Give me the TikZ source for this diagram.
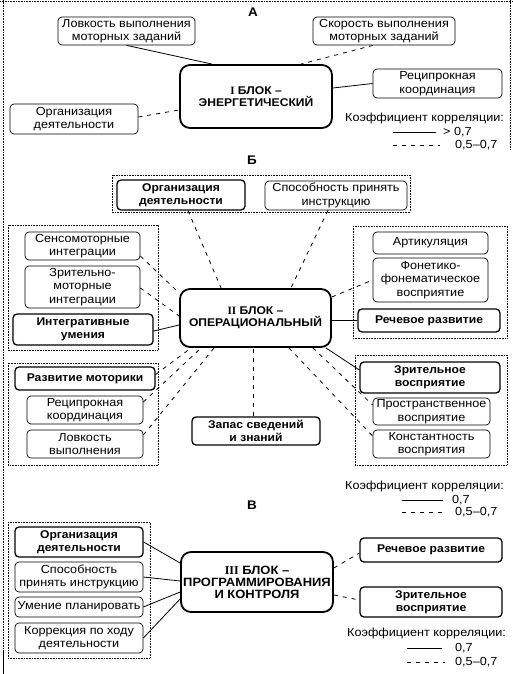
\documentclass[tikz,border=0pt]{standalone}
\usepackage{fontspec}
\setmainfont{Liberation Sans}[FakeStretch=1.08]
\newfontfamily\romfont{Liberation Serif}
\usetikzlibrary{calc}
\newcommand\myfs{\fontsize{11.7}{13.5}\selectfont}
\newcommand\myfb{\bfseries\fontsize{11.2}{13.5}\selectfont}
\newcommand\myfc{\bfseries\fontsize{11.2}{12}\selectfont}
\newcommand\myfcc{\bfseries\fontsize{12}{12}\selectfont}
\tikzset{
  sbox/.style={draw, line width=0.7pt, rounded corners=4pt, align=center, inner sep=0pt, font=\myfs},
  bbox/.style={sbox, line width=1.3pt, font=\myfb},
  cbox/.style={draw, line width=1.8pt, rounded corners=10pt, align=center, inner sep=0pt, font=\myfc},
  grp/.style={densely dotted, line width=0.6pt},
  solidc/.style={line width=0.8pt},
  dashc/.style={line width=0.8pt, dash pattern=on 4pt off 5pt},
  ttl/.style={font=\bfseries\fontsize{12.5}{14}\selectfont, inner sep=0pt},
  leg/.style={font=\myfs, inner sep=0pt, anchor=west},
}
\begin{document}
\begin{tikzpicture}[x=1pt,y=-1pt]
\useasboundingbox (0,0) rectangle (513,674);
% page frame
\draw[grp] (3,0) -- (3,650);
\draw[line width=0.6pt] (3,650) -- (3,674);
\draw[grp] (0,1) -- (513,1);
\draw[grp] (510,0) -- (510,150);

% ================= A
\node[ttl] (tA) at (253,12) {А};
\node[cbox, minimum width=152pt, minimum height=63pt] (cA) at (256,96.5) {{\romfont I} БЛОК –\\ЭНЕРГЕТИЧЕСКИЙ};
\node[sbox, minimum width=137pt, minimum height=28pt] (lovA) at (126.5,31) {Ловкость выполнения\\моторных заданий};
\node[sbox, minimum width=142pt, minimum height=28pt] (skorA) at (384,31) {Скорость выполнения\\моторных заданий};
\node[sbox, minimum width=129pt, minimum height=29pt] (recA) at (437.5,83.5) {Реципрокная\\координация};
\node[sbox, minimum width=128pt, minimum height=30pt] (orgA) at (74,119) {Организация\\деятельности};
\draw[solidc] (lovA.south) -- ([xshift=33pt]cA.north west);
\draw[dashc] ([xshift=-11pt]skorA.south) -- ([xshift=-32pt]cA.north east);
\draw[solidc] (recA.west) -- ([yshift=8.5pt]cA.east);
\draw[dashc] ([yshift=2pt]orgA.east) -- ([yshift=-13.5pt]cA.west);
% legend A
\node[leg] (legA) at (345,118) {Коэффициент корреляции:};
\coordinate (lA1s) at (393,132); \coordinate (lA1e) at (436,132);
\coordinate (lA2s) at (393,145); \coordinate (lA2e) at (440,145);
\draw[solidc] (lA1s) -- (lA1e);
\draw[dashc] (lA2s) -- (lA2e);
\node[leg] (legA1) at (443,132) {> 0,7};
\node[leg] (legA2) at (455,145) {0,5–0,7};

% ================= Б
\node[ttl] (tB) at (252,160) {Б};
\draw[grp] (112,175) rectangle (410,212);
\draw[grp] (8,225) rectangle (158,350);
\draw[grp] (8,363) rectangle (158,465);
\draw[grp] (353,226) rectangle (507,338);
\draw[grp] (355,355) rectangle (507,465);
\node[cbox, minimum width=151pt, minimum height=58pt] (cB) at (255.5,318) {{\romfont II} БЛОК –\\ОПЕРАЦИОНАЛЬНЫЙ};
\node[bbox, minimum width=128pt, minimum height=30pt] (orgB) at (181,195) {Организация\\деятельности};
\node[sbox, minimum width=142pt, minimum height=29pt] (sposB) at (336,195.5) {Способность принять\\инструкцию};
\node[sbox, minimum width=115pt, minimum height=28pt] (sensB) at (82.5,246) {Сенсомоторные\\интеграции};
\node[sbox, minimum width=115pt, minimum height=42pt] (zrmB) at (82.5,287) {Зрительно-\\моторные\\интеграции};
\node[bbox, minimum width=140pt, minimum height=31pt] (integB) at (83,329.5) {Интегративные\\умения};
\node[bbox, minimum width=140pt, minimum height=23pt] (razvB) at (85,378.5) {Развитие моторики};
\node[sbox, minimum width=116pt, minimum height=28pt] (recB) at (85,410) {Реципрокная\\координация};
\node[sbox, minimum width=116pt, minimum height=28pt] (lovB) at (85,444) {Ловкость\\выполнения};
\node[sbox, minimum width=115pt, minimum height=22pt] (artB) at (430.5,243) {Артикуляция};
\node[sbox, minimum width=115pt, minimum height=44pt] (fonB) at (430.5,280) {Фонетико-\\фонематическое\\восприятие};
\node[bbox, minimum width=142pt, minimum height=23pt] (rechB) at (429,320.5) {Речевое развитие};
\node[bbox, minimum width=140pt, minimum height=31pt] (zrvB) at (430,377.5) {Зрительное\\восприятие};
\node[sbox, minimum width=117pt, minimum height=27pt] (proB) at (431.5,411.5) {Пространственное\\восприятие};
\node[sbox, minimum width=117pt, minimum height=28pt] (konB) at (431.5,444) {Константность\\восприятия};
\node[bbox, minimum width=128pt, minimum height=28pt] (zapB) at (256,431) {Запас сведений\\и знаний};
\draw[dashc] ([xshift=7pt]orgB.south) -- ([xshift=42pt]cB.north west);
\draw[dashc] ([xshift=-8pt]sposB.south) -- ([xshift=-41pt]cB.north east);
\draw[dashc] ([yshift=-10pt]sensB.east) -- ([yshift=25pt]cB.west);
\draw[dashc] ([yshift=-1pt]zrmB.east) -- ([yshift=2pt]cB.west);
\draw[solidc] ([yshift=-1.5pt]integB.east) -- ([yshift=-7pt]cB.west);
\draw[dashc] ([yshift=4pt]razvB.east) -- ([xshift=12pt]cB.south west);
\draw[dashc] ([yshift=8pt]recB.east) -- ([xshift=22pt]cB.south west);
\draw[dashc] ([yshift=9pt]lovB.east) -- ([xshift=35pt]cB.south west);
\draw[dashc] ([xshift=-3pt]zapB.north) -- ([xshift=-2.5pt]cB.south);
\draw[solidc] ([xshift=-6pt]cB.south east) -- ([yshift=7.5pt]zrvB.west);
\draw[dashc] ([xshift=-19pt]cB.south east) -- ([yshift=6.5pt]proB.west);
\draw[dashc] ([xshift=-43pt]cB.south east) -- ([yshift=8pt]konB.west);
\draw[dashc] ([yshift=21pt]cB.east) -- (fonB.west);
\draw[solidc] (cB.east |- rechB.west) -- (rechB.west);
% legend Б
\node[leg] (legB) at (345,486) {Коэффициент корреляции:};
\coordinate (lB1s) at (402,500); \coordinate (lB1e) at (443,500);
\coordinate (lB2s) at (402,512); \coordinate (lB2e) at (445,512);
\draw[solidc] (lB1s) -- (lB1e);
\draw[dashc] (lB2s) -- (lB2e);
\node[leg] (legB1) at (452,500) {0,7};
\node[leg] (legB2) at (455,512) {0,5–0,7};

% ================= В
\node[ttl] (tC) at (252,505) {В};
\draw[grp] (8,522) rectangle (150,658);
\node[cbox, font=\myfcc, minimum width=152pt, minimum height=60pt] (cC) at (257,582) {{\romfont III} БЛОК –\\ПРОГРАММИРОВАНИЯ\\И КОНТРОЛЯ};
\node[bbox, minimum width=128pt, minimum height=30pt] (orgC) at (79,542) {Организация\\деятельности};
\node[sbox, minimum width=128pt, minimum height=30pt] (sposC) at (79,577) {Способность\\принять инструкцию};
\node[sbox, minimum width=128pt, minimum height=20pt] (umC) at (79,607) {Умение планировать};
\node[sbox, minimum width=128pt, minimum height=30pt] (korC) at (79,638) {Коррекция по ходу\\деятельности};
\node[bbox, minimum width=142pt, minimum height=24pt] (rechC) at (431,550) {Речевое развитие};
\node[bbox, minimum width=142pt, minimum height=30pt] (zrvC) at (431,602) {Зрительное\\восприятие};
\draw[solidc] (orgC.east) -- ([yshift=19pt]cC.west);
\draw[solidc] (sposC.east) -- ([yshift=1pt]cC.west);
\draw[solidc] (umC.east) -- ([yshift=-10pt]cC.west);
\draw[solidc] (korC.east) -- ([yshift=-17pt]cC.west);
\draw[dashc] ([yshift=14pt]cC.east) -- ([yshift=-3pt]rechC.west);
\draw[dashc] ([yshift=-13pt]cC.east) -- ([yshift=2pt]zrvC.west);
% legend В
\node[leg] (legC) at (347,633) {Коэффициент корреляции:};
\coordinate (lC1s) at (407,648); \coordinate (lC1e) at (442,648);
\coordinate (lC2s) at (407,662); \coordinate (lC2e) at (445,662);
\draw[solidc] (lC1s) -- (lC1e);
\draw[dashc] (lC2s) -- (lC2e);
\node[leg] (legC1) at (455,648) {0,7};
\node[leg] (legC2) at (455,662) {0,5–0,7};
\end{tikzpicture}
\end{document}
